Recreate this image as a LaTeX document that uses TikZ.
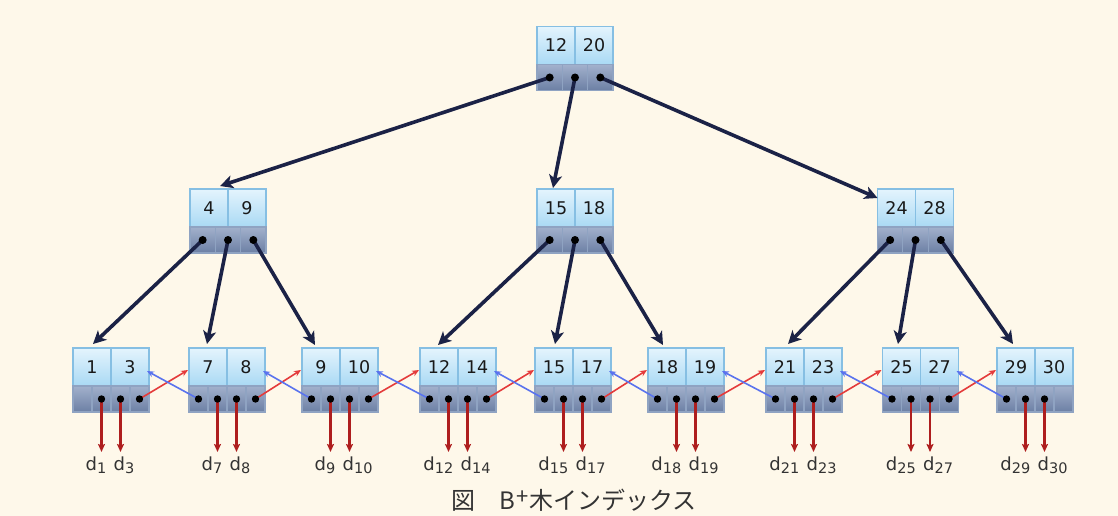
\documentclass[tikz,border=0pt]{standalone}
\usepackage{fontspec}
\setmainfont{DejaVu Sans}
\newfontfamily\jpfont{Noto Sans CJK JP}
\usetikzlibrary{arrows.meta,calc}
\definecolor{bgc}{HTML}{FEF8EA}
\definecolor{keytop}{HTML}{E4F4FD}
\definecolor{keybot}{HTML}{A9D9F4}
\definecolor{keyborder}{HTML}{86BFE3}
\definecolor{ptrtop}{HTML}{A2B1CC}
\definecolor{ptrbot}{HTML}{6C7FA4}
\definecolor{ptrborder}{HTML}{8FA3C2}
\definecolor{navy}{HTML}{1B2246}
\definecolor{dred}{HTML}{AE1E1E}
\definecolor{lred}{HTML}{E43B3B}
\definecolor{lblue}{HTML}{5A73EE}
\newcommand\dsub[1]{d\raisebox{-3pt}{\fontsize{14.5}{15}\selectfont #1}}
\tikzset{
 keycell/.style={rectangle, draw=keyborder, line width=1.3pt, top color=keytop, bottom color=keybot,
   minimum width=38pt, minimum height=38pt, inner sep=0pt, outer sep=0pt, anchor=north west,
   font=\fontsize{17.5}{18}\selectfont, text=black!90},
 ptrcell/.style={rectangle, draw=ptrborder, line width=1.1pt, top color=ptrtop, bottom color=ptrbot,
   minimum height=26pt, inner sep=0pt, outer sep=0pt, anchor=north west},
 iptr/.style={ptrcell, minimum width=25.33pt},
 lptr/.style={ptrcell, minimum width=19pt},
 dotp/.style={fill=black, draw=none},
 treearrow/.style={navy, line width=3.6pt, -{Stealth[length=13pt,width=13pt,inset=3.5pt]}},
 dataarrow/.style={dred, line width=2.2pt, -{Stealth[length=8pt,width=7pt,inset=1.5pt]}},
 nextarrow/.style={lred, line width=1.6pt, -{Stealth[length=7pt,width=6pt]}},
 prevarrow/.style={lblue, line width=1.6pt, -{Stealth[length=7pt,width=6pt]}},
 dlabel/.style={font=\fontsize{18}{19}\selectfont, text=black!80, inner sep=0pt},
}
\newcommand\inode[5]{%
 \node[keycell] (#1k1) at (#2,#3) {#4};
 \node[keycell] (#1k2) at (#1k1.north east) {#5};
 \node[iptr] (#1p1) at (#1k1.south west) {};
 \node[iptr] (#1p2) at (#1p1.north east) {};
 \node[iptr] (#1p3) at (#1p2.north east) {};
}
\newcommand\lnode[5]{%
 \node[keycell] (#1k1) at (#2,#3) {#4};
 \node[keycell] (#1k2) at (#1k1.north east) {#5};
 \node[lptr] (#1p1) at (#1k1.south west) {};
 \node[lptr] (#1p2) at (#1p1.north east) {};
 \node[lptr] (#1p3) at (#1p2.north east) {};
 \node[lptr] (#1p4) at (#1p3.north east) {};
}
\begin{document}
\begin{tikzpicture}[x=1pt,y=-1pt]
\fill[bgc] (0,0) rectangle (1118,516);
\useasboundingbox (0,0) rectangle (1118,516);
% root and internal nodes
\inode{R}{537}{26.5}{12}{20}
\inode{Na}{190}{189}{4}{9}
\inode{Nb}{537}{189}{15}{18}
\inode{Nc}{877.5}{189}{24}{28}
% leaves
\lnode{La}{73}{348}{1}{3}
\lnode{Lb}{189}{348}{7}{8}
\lnode{Lc}{302}{348}{9}{10}
\lnode{Ld}{420}{348}{12}{14}
\lnode{Le}{535}{348}{15}{17}
\lnode{Lf}{648}{348}{18}{19}
\lnode{Lg}{766}{348}{21}{23}
\lnode{Lh}{882.5}{348}{25}{27}
\lnode{Li}{997}{348}{29}{30}
% tree arrows
\draw[treearrow] (Rp1.center) -- ($(Nak1.north west)+(30,-3)$);
\draw[treearrow] (Rp2.center) -- ($(Nbk1.north west)+(16,-1)$);
\draw[treearrow] (Rp3.center) -- ($(Nck1.north west)+(0,9)$);
\draw[treearrow] (Nap1.center) -- ($(Lak1.north west)+(20,-4)$);
\draw[treearrow] (Nap2.center) -- ($(Lbk1.north west)+(18,-4)$);
\draw[treearrow] (Nap3.center) -- ($(Lck1.north west)+(13,-3)$);
\draw[treearrow] (Nbp1.center) -- ($(Ldk1.north west)+(18,-3)$);
\draw[treearrow] (Nbp2.center) -- ($(Lek1.north west)+(20,-4)$);
\draw[treearrow] (Nbp3.center) -- ($(Lfk1.north west)+(15,-3)$);
\draw[treearrow] (Ncp1.center) -- ($(Lgk1.north west)+(22,-4)$);
\draw[treearrow] (Ncp2.center) -- ($(Lhk1.north west)+(15.5,-4)$);
\draw[treearrow] (Ncp3.center) -- ($(Lik1.north west)+(16,-4)$);
% sibling links
\foreach \a/\b in {La/Lb,Lb/Lc,Lc/Ld,Ld/Le,Le/Lf,Lf/Lg,Lg/Lh,Lh/Li}{
  \draw[nextarrow] (\a p4.center) -- ($(\b k1.north west)+(-1,22)$);
  \draw[prevarrow] (\b p1.center) -- ($(\a k2.north east)+(-2,23)$);
}
% data pointers
\foreach \l/\m/\n in {La/1/3,Lb/7/8,Lc/9/10,Ld/12/14,Le/15/17,Lf/18/19,Lg/21/23,Lh/25/27,Li/29/30}{
  \coordinate (\l t2) at ($(\l p2.center)+(0,53)$);
  \coordinate (\l t3) at ($(\l p3.center)+(0,53)$);
  \draw[dataarrow] (\l p2.center) -- (\l t2);
  \draw[dataarrow] (\l p3.center) -- (\l t3);
  \node[dlabel, anchor=base east] (\l lab2) at ($(\l p2.center)+(5,71)$) {\dsub{\m}};
  \node[dlabel, anchor=base west] (\l lab3) at ($(\l p3.center)+(-7,71)$) {\dsub{\n}};
}
% dots
\foreach \n in {R,Na,Nb,Nc}{
  \foreach \i in {1,2,3}{\fill[dotp] (\n p\i.center) circle[radius=4pt];}
}
\foreach \n in {La,Lb,Lc,Ld,Le,Lf,Lg,Lh,Li}{
  \foreach \i in {2,3}{\fill[dotp] (\n p\i.center) circle[radius=3.7pt];}
}
\foreach \n in {Lb,Lc,Ld,Le,Lf,Lg,Lh,Li}{\fill[dotp] (\n p1.center) circle[radius=3.7pt];}
\foreach \n in {La,Lb,Lc,Ld,Le,Lf,Lg,Lh}{\fill[dotp] (\n p4.center) circle[radius=3.7pt];}
% caption
\node[font=\jpfont\fontsize{24}{25}\selectfont, text=black!80, anchor=base, inner sep=0pt] (cap) at (574,509)
  {図　B\raisebox{5pt}{\fontsize{22}{22}\selectfont\kern1pt +\kern1pt}木インデックス};
\end{tikzpicture}
\end{document}
